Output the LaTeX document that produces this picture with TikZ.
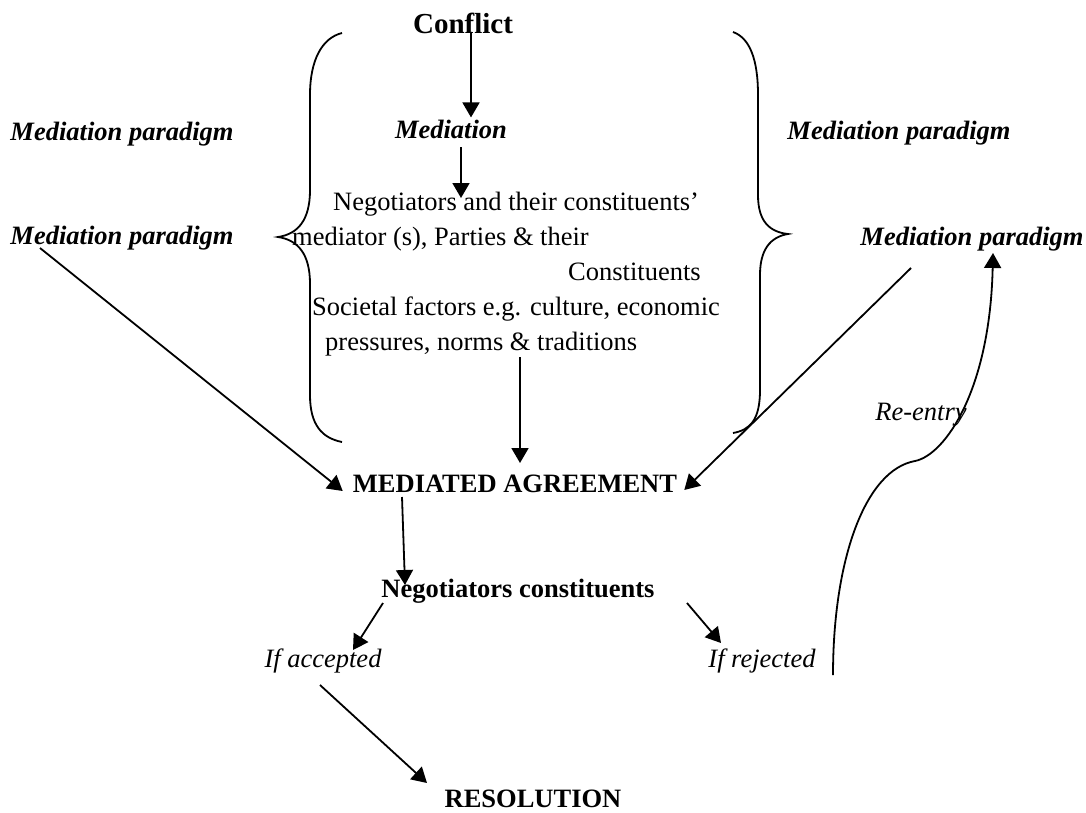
\documentclass[tikz,border=0pt]{standalone}
\usepackage{fontspec}
\setmainfont{Liberation Serif}
\usetikzlibrary{arrows.meta}

\begin{document}
\begin{tikzpicture}[x=1pt, y=-1pt,
txt/.style = {inner sep=0pt, font=\fontsize{26.5}{32}\selectfont},
head/.style = {txt, font=\fontsize{26.5}{32}\selectfont\bfseries},
para/.style = {txt, font=\fontsize{26.5}{32}\selectfont\bfseries\itshape},
branch/.style = {txt, font=\fontsize{26.5}{32}\selectfont\itshape},
arr/.style = {line width=1.8pt, -{Triangle[length=15pt, width=17pt]}},
brace/.style = {line width=1.8pt}
                        ]
\useasboundingbox (0,0) rectangle (1086,812);
\def\leftbrace{(342,33) .. controls (322,38) and (310,60) .. (310,95) -- (310,190)
  .. controls (310,220) and (298,234) .. (278,237) .. controls (298,240) and (310,254) .. (310,284)
  -- (310,395) .. controls (310,425) and (322,438) .. (342,442)}
\def\rightbrace{(733,32) .. controls (750,38) and (758,60) .. (758,95) -- (758,195)
  .. controls (758,222) and (770,232) .. (788,234) .. controls (770,237) and (760,250) .. (760,275)
  -- (760,390) .. controls (760,420) and (750,430) .. (733,433)}
\draw[brace] \leftbrace;
\draw[brace] \rightbrace;
% centre column
\node (conflict) [head, font=\fontsize{29}{34}\selectfont\bfseries, anchor=base] at (463,33) {Conflict};
\node (mediation) [para, anchor=base] at (451,138) {Mediation};
\node (lineA) [txt, anchor=base west] at (333,210) {Negotiators and their constituents’};
\node (lineB) [txt, anchor=base west] at (292,245) {mediator (s), Parties \& their};
\node (lineC) [txt, anchor=base west] at (568,280) {Constituents};
\node (lineD) [txt, anchor=base west] at (312,315) {Societal factors e.g. culture, economic};
\node (lineE) [txt, anchor=base west] at (325,350) {pressures, norms \& traditions};
\node (agree) [head, anchor=base] at (515,492) {MEDIATED AGREEMENT};
\node (constit) [head, anchor=base] at (518,597) {Negotiators constituents};
\node (accept) [branch, anchor=base] at (323,667) {If accepted};
\node (reject) [branch, anchor=base] at (762,667) {If rejected};
\node (resol) [head, anchor=base] at (533,807) {RESOLUTION};
% side labels
\node (paraLa) [para, anchor=base] at (122,140) {Mediation paradigm};
\node (paraLb) [para, anchor=base] at (122,244) {Mediation paradigm};
\node (paraRa) [para, anchor=base] at (899,139) {Mediation paradigm};
\node (paraRb) [para, anchor=base] at (972,245) {Mediation paradigm};
\node (reentry) [branch, anchor=base] at (921,420) {Re-entry};
\coordinate (bend) at (915,461);
% arrows
\draw[arr] ([xshift=8pt]conflict.base) -- ([xshift=20pt,yshift=2pt]mediation.north);
\draw[arr] ([xshift=10pt,yshift=-9pt]mediation.base) -- ([xshift=128pt,yshift=12pt]lineA.base west);
\draw[arr] ([xshift=195pt,yshift=-7pt]lineE.base west) -- ([xshift=5pt,yshift=29pt]agree.base);
\draw[arr] ([xshift=-82pt,yshift=-4pt]paraLb.base) -- ([xshift=-10pt,yshift=1pt]agree.base west);
\draw[arr] ([xshift=-61pt,yshift=-23pt]paraRb.base) -- ([xshift=7pt,yshift=2pt]agree.base east);
\draw[arr] ([xshift=-113pt,yshift=-5pt]agree.base) -- ([xshift=-113pt,yshift=12pt]constit.base);
\draw[arr] ([xshift=-135pt,yshift=-6pt]constit.base) -- ([xshift=30pt,yshift=17pt]accept.base);
\draw[arr] ([xshift=169pt,yshift=-6pt]constit.base) -- ([xshift=-41pt,yshift=24pt]reject.base);
\draw[arr] ([xshift=-3pt,yshift=-18pt]accept.base) -- ([xshift=-106pt,yshift=24pt]resol.base);
\draw[arr] ([xshift=71pt,yshift=-8pt]reject.base) .. controls (833,560) and (865,470) .. (bend)
  .. controls (945,455) and (990,390) .. ([xshift=21pt,yshift=-8pt]paraRb.base);
\end{tikzpicture}
\end{document}
